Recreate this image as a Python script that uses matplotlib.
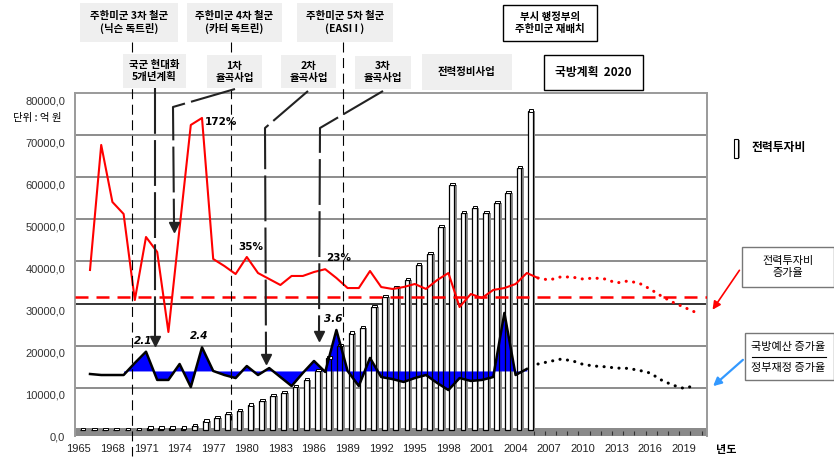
import matplotlib
matplotlib.use('Agg')
import matplotlib.pyplot as plt
import matplotlib.transforms as mtrans
from matplotlib.patches import Rectangle

plt.rcParams['font.family'] = ['Noto Sans CJK KR', 'DejaVu Sans']

W, H = 834, 459

# ---------------- data ----------------
invest_years = list(range(1965, 2006))
invest = [50, 50, 50, 50, 50, 50, 400, 400, 400, 400, 1000, 2100, 2850, 3800, 4500,
          5900, 7000, 8100, 8800, 10200, 11900, 14000, 17000, 20000, 23000, 24200,
          29200, 31600, 33700, 35600, 39200, 41800, 48200, 58200, 51500, 52700,
          51500, 53900, 56300, 62200, 75700]

rate_years = list(range(1966, 2007))
rate = [22.2, 145.4, 89.2, 77.4, -7.4, 54.7, 39.9, -38.9, 63.6, 165.1, 172, 33,
        26.1, 18.2, 35, 19.2, 13.3, 7.4, 16.3, 16.3, 20.2, 23, 14.3, 4.4, 4.4,
        21.2, 5.4, 3.5, 5.4, 8.4, 3.5, 12.3, 19.2, -14.3, -1.5, -5.4, 2.5, 4.4,
        8.4, 19.2, 14.3]
rate_proj_years = list(range(2006, 2021))
rate_proj = [14.3, 12.3, 15.3, 15.3, 13.3, 14.3, 13.3, 9.4, 11.3, 9.4, 3.5, -3.4,
             -9.4, -14.3, -19.2]
rate_ref = -4.9

ratio_years = list(range(1966, 2006))
ratio = [0.56, 0.49, 0.49, 0.49, 1.32, 2.1, 0.15, 0.15, 1.25, -0.34, 2.4, 0.77,
         0.49, 0.28, 1.11, 0.49, 0.97, 0.35, -0.27, 0.63, 1.46, 0.70, 3.6, 0.77,
         -0.27, 1.67, 0.35, 0.21, 0.01, 0.28, 0.49, -0.06, -0.55, 0.28, 0.08,
         0.15, 0.35, 4.78, 0.49, 0.91]
ratio_proj_years = list(range(2006, 2021))
ratio_proj = [1.25, 1.42, 1.58, 1.49, 1.23, 1.11, 1.06, 0.97, 0.95, 0.82, 0.63,
              0.15, -0.20, -0.43, -0.25]
ratio_base = 0.77
ratio_fill_from = 1969

yticks = list(range(0, 80001, 10000))
xticks = list(range(1965, 2020, 3))

rate_labels = [(1976, 172, '172%'), (1980, 35, '35%'), (1987, 23, '23%')]
ratio_labels = [(1971, 2.1, '2.1'), (1976, 2.4, '2.4'), (1988, 3.6, '3.6')]

# ---------------- figure ----------------
fig = plt.figure(figsize=(W / 100, H / 100), dpi=100)
L, R, T, B = 75, 707, 93, 436
ax = fig.add_axes([L / W, 1 - B / H, (R - L) / W, (B - T) / H])
ax.set_xlim(1964.66, 2021.09)
ax.set_ylim(-1425, 80000)

axr = ax.twinx()
axr.set_ylim(-141.4, 196.6)
axr.axis('off')
axq = ax.twinx()
axq.set_ylim(-3.725, 19.98)
axq.axis('off')

# gridlines
for v in yticks[1:-1]:
    ax.axhline(v, color='black' if v == 30000 else '#6e6e6e', lw=1.1, zorder=0.5)
for s in ['left', 'top', 'right']:
    ax.spines[s].set_color('#9a9a9a')
    ax.spines[s].set_linewidth(1.4)
ax.spines['bottom'].set_visible(False)

# floor
ax.axhspan(-1425, 475, color='#8a8a8a', zorder=1, lw=0)
for yr in range(2005, 2021):
    ax.vlines(yr + 0.6, -1300, -250, color='#333333', lw=0.8, zorder=1.2)

# bars (faces), then ratio area, then bar outlines
xs = [y + 0.3 for y in invest_years]
ax.bar([x + 0.32 for x in xs], invest, width=0.3, color='#8c8c8c', lw=0, zorder=3)
ax.bar(xs, invest, width=0.42, color='white', lw=0, zorder=3.1)

mask = [y >= ratio_fill_from for y in ratio_years]
ax.fill_between(ratio_years, ratio, ratio_base, where=mask, interpolate=True,
                color='#0000ff', lw=0, transform=axq.transData, zorder=3.5)

ax.bar(xs, invest, width=0.42, fill=False, edgecolor='black', lw=0.9, zorder=4)
ax.bar([x + 0.08 for x in xs], [550] * len(invest), bottom=[v - 100 for v in invest],
       width=0.42, color='white', edgecolor='black', lw=0.7, zorder=5)
ax.plot(ratio_years, ratio, color='black', lw=1.8, transform=axq.transData,
        zorder=5.5)

# ticks & labels
ax.set_yticks(yticks)
ax.set_yticklabels([f'{v:.1f}'.replace('.', ',') for v in yticks],
                   fontfamily='Liberation Sans', fontsize=8, color='#333333')
ax.tick_params(axis='y', length=0, pad=7)
off = mtrans.ScaledTranslation(0, -7 / 100, fig.dpi_scale_trans)
for lab in ax.get_yticklabels():
    lab.set_transform(lab.get_transform() + off)
ax.set_xticks(xticks)
ax.set_xticklabels([str(x) for x in xticks], fontfamily='Liberation Sans',
                   fontsize=8, color='#222222')
ax.tick_params(axis='x', length=0, pad=6)

# red rate line
axr.axhline(rate_ref, color='red', lw=1.8, ls=(0, (5.2, 3.2)))
axr.plot(rate_years, rate, color='red', lw=1.5)
axr.plot(rate_proj_years, rate_proj, color='red', lw=2.2, ls=(0, (0.05, 2.4)),
         dash_capstyle='round')
for yr, v, t in rate_labels:
    dx, dy = {172: (3, -4), 35: (4, 10), 23: (13, 11)}[v]
    axr.annotate(t, (yr, v), xytext=(dx, dy), textcoords='offset pixels',
                 ha='left' if v == 172 else 'center', va='center',
                 fontfamily='DejaVu Sans', fontweight='bold', fontsize=7.5)

# ratio projection
axq.plot(ratio_proj_years, ratio_proj, color='black', lw=2.2, ls=(0, (0.05, 2.4)),
         dash_capstyle='round')
for yr, v, t in ratio_labels:
    axq.annotate(t, (yr, v), xytext=(-3, 11), textcoords='offset pixels',
                 ha='center', va='center', fontfamily='DejaVu Sans',
                 fontweight='bold', fontstyle='italic', fontsize=7.5)

# ---------------- overlay (annotations) ----------------
ov = fig.add_axes([0, 0, 1, 1])
ov.set_xlim(0, W)
ov.set_ylim(H, 0)
ov.axis('off')
ov.patch.set_visible(False)


def box(x0, y0, x1, y1, text, fc='#efefef', ec='none', bold=True, fs=7.5):
    ov.add_patch(Rectangle((x0, y0), x1 - x0, y1 - y0, fc=fc, ec=ec, lw=1,
                           zorder=5))
    ov.text((x0 + x1) / 2, (y0 + y1) / 2, text, ha='center', va='center',
            fontsize=fs, fontweight='bold' if bold else 'normal', linespacing=1.25,
            zorder=6)


box(80, 3, 178, 42, '주한미군 3차 철군\n(닉슨 독트린)')
box(187, 3, 282, 42, '주한미군 4차 철군\n(카터 독트린)')
box(297, 3, 393, 42, '주한미군 5차 철군\n(EASI I )')
box(123, 54, 186, 88, '국군 현대화\n5개년계획')
box(207, 55, 262, 88, '1차\n율곡사업')
box(281, 55, 336, 88, '2차\n율곡사업')
box(355, 56, 411, 89, '3차\n율곡사업')
box(422, 54, 512, 90, '전력정비사업')
box(503, 5, 597, 41, '부시 행정부의\n주한미군 재배치', fc='white', ec='black')
box(544, 55, 643, 90, '국방계획  2020', fc='white', ec='black', fs=8.5)

# thin dashed event lines
for x, y0, y1 in [(132, 42, 456), (231, 42, 420), (343, 42, 340)]:
    ov.plot([x, x], [y0, y1], color='black', lw=0.8, ls=(0, (9, 5)), zorder=2)

# thick dashed arrows
arrows = [
    ([155, 155], [88, 336]),
    ([235, 173, 174], [89, 107, 222]),
    ([308, 265, 266], [91, 128, 354]),
    ([383, 320, 319], [91, 128, 331]),
]
for xs_, ys_ in arrows:
    ov.plot(xs_, ys_, color='#222222', lw=1.5, ls=(0, (22, 3)), zorder=2)
    ov.plot(xs_[-1], ys_[-1] + 5, marker='v', ms=7, color='#222222', zorder=2)

# unit text
ov.text(37, 118, '단위 : 억 원', ha='center', va='center', fontsize=7.5)
ov.text(726, 449, '년도', ha='center', va='center', fontsize=8, fontweight='bold')

# legend: bars
ov.add_patch(Rectangle((738, 140), 2.5, 18, fc='#8c8c8c', ec='none'))
ov.add_patch(Rectangle((734, 139), 4, 19, fc='white', ec='black', lw=0.8))
ov.text(752, 148, '전력투자비', ha='left', va='center', fontsize=8.5, fontweight='bold')

# legend boxes
ov.add_patch(Rectangle((742, 247), 92, 40, fc='white', ec='#777777', lw=1))
ov.text(788, 267, '전력투자비\n증가율', ha='center', va='center', fontsize=8,
        linespacing=1.3)
ov.annotate('', xy=(711, 312), xytext=(741, 268),
            arrowprops=dict(arrowstyle='-|>', color='red', lw=1.2, mutation_scale=12))

ov.add_patch(Rectangle((745, 333), 89, 47, fc='white', ec='#777777', lw=1))
ov.text(788, 347, '국방예산 증가율', ha='center', va='center', fontsize=8)
ov.plot([752, 826], [357, 357], color='black', lw=0.8)
ov.text(788, 368, '정부재정 증가율', ha='center', va='center', fontsize=8)
ov.annotate('', xy=(711, 388), xytext=(745, 358),
            arrowprops=dict(arrowstyle='-|>', color='#3399ff', lw=1.6, mutation_scale=12))

fig.savefig('out.png', dpi=100)
